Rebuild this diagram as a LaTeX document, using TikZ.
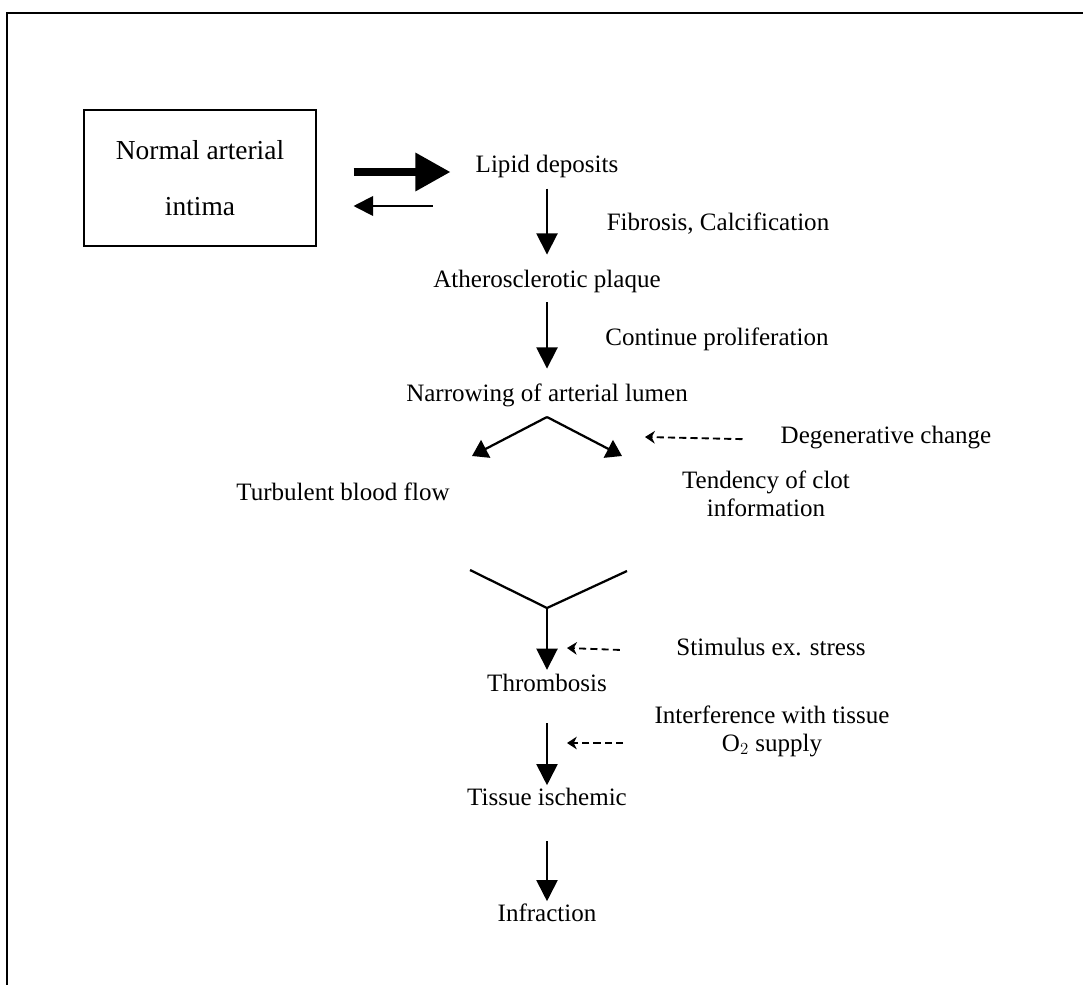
\documentclass[tikz,border=0pt]{standalone}
\usepackage{fontspec}
\setmainfont{Liberation Serif}
\usetikzlibrary{arrows.meta,positioning,calc}

\begin{document}
\begin{tikzpicture}[
	x=0.025cm,y=-0.025cm,
	lbl/.style={
		inner sep=0pt,
		align=center,
		text height=0.7em,
		text depth=0.25em,
		font=\fontsize{17.8}{19.5}\selectfont
	},
	boxnode/.style={
		draw,
		line width=1.4pt,
		minimum width=5.775cm,
		minimum height=3.375cm,
		align=center,
		font=\fontsize{19.5}{40}\selectfont
	},
	arr/.style={-{Triangle[length=15pt,width=15pt]},line width=1.3pt},
	fork/.style={-{Triangle[length=11pt,width=14pt]},line width=1.6pt},
	dasharr/.style={-{Stealth[length=7pt,width=9pt]},line width=1.3pt,dash pattern=on 5pt off 3pt}
	]
	\useasboundingbox (0,0) rectangle (1083,985);
	\draw[line width=2pt] (1083,13) -- (7,13) -- (7,985);
	% main chain
	\node[boxnode](normal) at (200,178) {Normal arterial\\intima};
	\node[lbl](lipid) at (547,169) {Lipid deposits};
	\node[lbl](athero) at (547,284) {Atherosclerotic plaque};
	\node[lbl](narrow) at (547,398) {Narrowing of arterial lumen};
	\node[lbl](thromb) at (547,688) {Thrombosis};
	\node[lbl](tissue) at (547,802) {Tissue ischemic};
	\node[lbl](infra) at (547,918) {Infraction};
	% side notes
	\node[lbl](fibro) at (718,227) {Fibrosis, Calcification};
	\node[lbl](prolif) at (717,342) {Continue proliferation};
	\node[lbl](degen) at (886,440) {Degenerative change};
	\node[lbl](turb) at (343,497) {Turbulent blood flow};
	\node[lbl,text height=,text depth=](clot) at (766,494) {Tendency of clot\\information};
	\node[lbl](stim) at (771,652) {Stimulus ex. stress};
	\node[lbl,text height=,text depth=,font=\fontsize{17.8}{20}\selectfont](intf) at (772,731) {Interference with tissue\\O$_2$ supply};
	% junction points
	\coordinate(peak) at (547,417);
	\coordinate(lefttip) at (472,456);
	\coordinate(righttip) at (622,456);
	\coordinate(yleft) at (470,570);
	\coordinate(yright) at (627,571);
	\coordinate(yjoin) at (547,608);
	\coordinate(degend) at (645,437);
	\coordinate(stimend) at (567,648);
	\coordinate(intfstart) at (623,743);
	\coordinate(intfend) at (567,743);
	% arrows
	\draw[-{Triangle[length=25pt,width=26pt]},line width=5.7pt]($(normal.east)+(37,-6)$) -- ++(97,0);
	\draw[-{Triangle[length=14pt,width=14pt]},line width=1.4pt]($(normal.east)+(116,28)$) -- ++(-79,0);
	\draw[arr,shorten <=9pt,shorten >=16pt](lipid) -- (athero);
	\draw[arr,shorten <=8pt,shorten >=16pt](athero) -- (narrow);
	\draw[fork](peak) -- (lefttip);
	\draw[fork](peak) -- (righttip);
	\draw[line width=1.6pt](yleft) -- (yjoin) -- (yright);
	\draw[arr,shorten >=8pt](yjoin) -- (thromb);
	\draw[arr,shorten <=20pt,shorten >=7pt](thromb) -- (tissue);
	\draw[arr,shorten <=23pt,shorten >=7pt](tissue) -- (infra);
	\draw[dasharr,shorten <=27pt](degen.west) -- (degend);
	\draw[dasharr,shorten <=40pt](stim.west) -- (stimend);
	\draw[dasharr](intfstart) -- (intfend);
\end{tikzpicture}
\end{document}
